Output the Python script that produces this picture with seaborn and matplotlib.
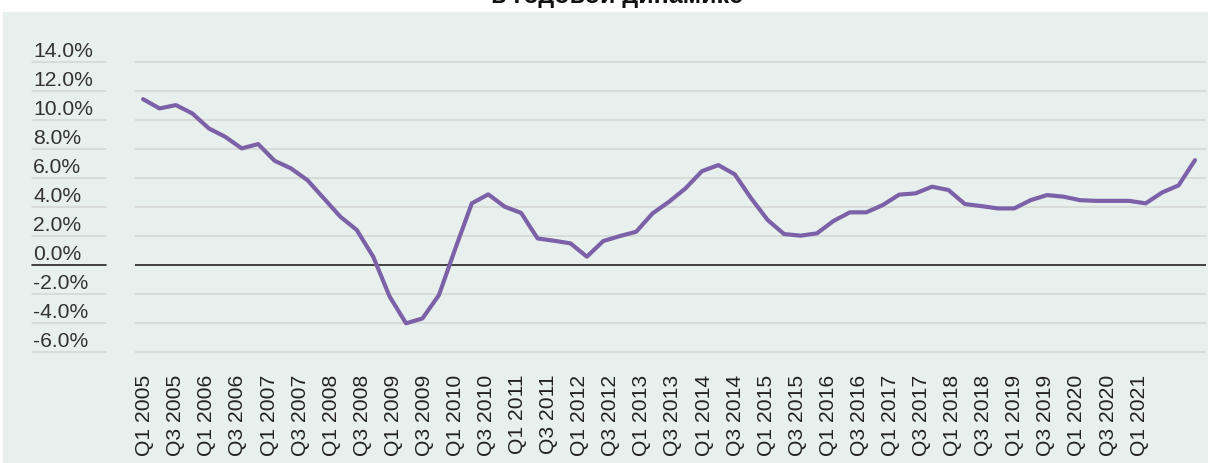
import numpy as np
import pandas as pd
import seaborn as sns
import matplotlib.pyplot as plt
from matplotlib.patches import Rectangle
from matplotlib.transforms import blended_transform_factory, ScaledTranslation

# quarterly growth, % y/y, Q1 2005 .. Q1 2021
growth = [11.47, 10.83, 11.06, 10.48, 9.45, 8.87, 8.07, 8.37, 7.22, 6.69,
          5.88, 4.62, 3.36, 2.44, 0.60, -2.15, -4.00, -3.66, -2.05, 1.17,
          4.28, 4.90, 4.05, 3.62, 1.86, 1.70, 1.52, 0.60, 1.68, 2.02,
          2.32, 3.59, 4.39, 5.31, 6.50, 6.92, 6.28, 4.62, 3.13, 2.16,
          2.05, 2.21, 3.06, 3.66, 3.66, 4.16, 4.88, 4.97, 5.43, 5.20,
          4.23, 4.09, 3.93, 3.93, 4.50, 4.85, 4.74, 4.50, 4.45, 4.45,
          4.45, 4.28, 5.03, 5.52, 7.26]
quarter = [f"Q{q} {y}" for y in range(2005, 2022) for q in (1, 2, 3, 4)][:len(growth)]

y_ticks = [14, 12, 10, 8, 6, 4, 2, 0, -2, -4, -6]
y_labels = [f"{v:.1f}%" for v in y_ticks]
x_labels = [f"Q{q} {y}" for y in range(2005, 2022) for q in (1, 3)][:33]

title = "в годовой динамике"

df = pd.DataFrame({"idx": np.arange(len(growth)), "quarter": quarter, "growth": growth})

sns.set_theme(style="white")
plt.rcParams["font.family"] = ["Liberation Sans", "DejaVu Sans"]

bg = "#e8f0ed"
line_col = "#7d61a8"
grid_col = "#d2d6d4"
text_col = "#333333"

fig = plt.figure(figsize=(12.1, 4.64), dpi=100)
fig.patches.append(Rectangle((3 / 1210, 0), 1204 / 1210, 451 / 464,
                             transform=fig.transFigure, color=bg, zorder=-1))
ax = fig.add_axes([0.1116, 0.2073, 0.8851, 0.6871])
ax.set_facecolor("none")

# grid lines, plus the short stubs under the y labels
for v in y_ticks:
    c = "#222222" if v == 0 else grid_col
    lw = 1.2 if v == 0 else 1.1
    ax.axhline(v, color=c, lw=lw, zorder=1)
    ax.axhline(v, xmin=-0.0963, xmax=-0.0271, color=c, lw=lw, clip_on=False, zorder=1)

sns.lineplot(data=df, x="idx", y="growth", color=line_col, linewidth=3.0, ax=ax, zorder=3)

ax.set_xlim(-0.49, 64.67)
ax.set_ylim(-7, 15)

# y labels sit just above their grid line
tr = blended_transform_factory(fig.transFigure, ax.transData) + \
    ScaledTranslation(0, 12 / 100, fig.dpi_scale_trans)
for v, lab in zip(y_ticks, y_labels):
    ax.text(33 / 1210, v, lab, transform=tr, ha="left", va="center",
            fontsize=15.2, color=text_col)
ax.set_yticks([])

ax.set_xticks(np.linspace(0.1, 60.6, len(x_labels)))
ax.set_xticklabels(x_labels, rotation=90, fontsize=15.2, color="#222222")
ax.tick_params(axis="x", length=0, pad=5)
ax.set_xlabel("")
ax.set_ylabel("")
sns.despine(ax=ax, left=True, bottom=True)

fig.text(0.51, 0.9935, title, ha="center", va="baseline",
         fontsize=18, fontweight="bold", color="#111111")

fig.savefig("out.png", dpi=100)
